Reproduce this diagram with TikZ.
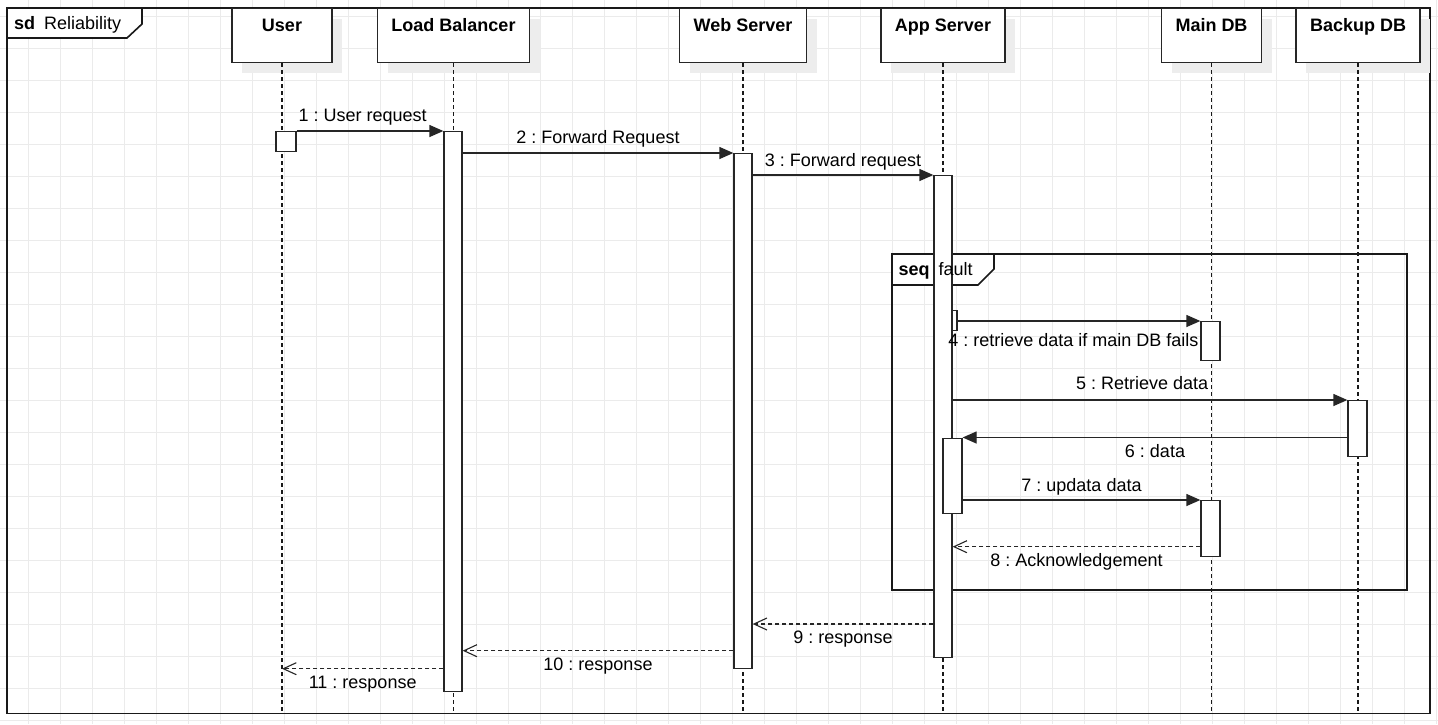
\documentclass[tikz,border=0pt]{standalone}
\usepackage{fontspec}
\setmainfont{Liberation Sans}
\usetikzlibrary{arrows.meta,shadows}
\frenchspacing

\tikzset{
  gridline/.style={draw=black!8, line width=0.8pt},
  frame/.style={draw=black!90, line width=1.6pt},
  head/.style={draw=black!85, line width=1.3pt, fill=white, anchor=north,
    font=\fontsize{18}{21.6}\selectfont\bfseries,
    minimum height=54pt, inner xsep=0pt, inner ysep=10.5pt,
    text height=12.4pt, text depth=20.1pt,
    drop shadow={shadow xshift=10pt, shadow yshift=-10pt, fill=black!7, opacity=1}},
  lifeline/.style={draw=black!90, line width=1.4pt, dash pattern=on 4pt off 3pt},
  act/.style={draw=black!85, line width=1.3pt, fill=white, anchor=north,
    minimum width=18pt, inner sep=0pt},
  call/.style={draw=black!85, line width=1.3pt, -{Triangle[length=14pt,width=12pt]}},
  reply/.style={draw=black!85, line width=1.1pt, dash pattern=on 4pt off 3pt,
    -{Straight Barb[length=13pt,width=12pt]}},
  msg/.style={inner sep=0pt, text height=12.4pt, text depth=3.8pt}
}

\begin{document}
\begin{tikzpicture}[x=1pt,y=-1pt,font=\fontsize{18}{21.6}\selectfont]
\useasboundingbox (0,0) rectangle (1438,724);
\fill[white] (0,0) rectangle (1438,724);

% grid
\foreach \k in {0,...,45} \draw[gridline] ({-3.7+32*\k},0) -- ({-3.7+32*\k},724);
\foreach \k in {0,...,22} \draw[gridline] (0,{16.3+32*\k}) -- (1438,{16.3+32*\k});

% sd frame
\draw[frame] (7,8) rectangle (1430,713.5);
\draw[frame, fill=white] (7,8) -- (142,8) -- (142,24) -- (127,38) -- (7,38) -- cycle;
\node[anchor=base west, inner sep=0pt] (sdlbl) at (14,29.2) {\textbf{sd}\hspace{9pt}Reliability};
\coordinate (bottom) at (0,713.5);

% lifeline heads
\node[head, minimum width=100pt] (user) at (282,8) {User};
\node[head, minimum width=152pt] (lb) at (453.5,8) {Load Balancer};
\node[head, minimum width=127pt] (web) at (743,8) {Web Server};
\node[head, minimum width=124pt] (app) at (943,8) {App Server};
\node[head, minimum width=100pt] (maindb) at (1211.5,8) {Main DB};
\node[head, minimum width=124pt] (backdb) at (1358,8) {Backup DB};

% lifelines
\draw[lifeline] (user.south) -- (user.south |- bottom);
\draw[lifeline] (lb.south) -- (lb.south |- bottom);
\draw[lifeline] (web.south) -- (web.south |- bottom);
\draw[lifeline] (app.south) -- (app.south |- bottom);
\draw[lifeline] (maindb.south) -- (maindb.south |- bottom);
\draw[lifeline] (backdb.south) -- (backdb.south |- bottom);

% seq fragment
\draw[frame] (892,254) rectangle (1407,590);
\draw[frame, fill=white] (892,254) -- (994,254) -- (994,269) -- (978,285) -- (892,285) -- cycle;

% activations
\node[act, minimum width=20pt, minimum height=20pt] (userA) at (286,131) {};
\node[act, minimum height=560pt] (lbA) at (453,131) {};
\node[act, minimum height=515pt] (webA) at (743,153) {};
\node[act, minimum height=482pt] (appA) at (943,175) {};
\node[act, minimum width=5pt, minimum height=20pt] (selfA) at (954.5,310) {};
\node[act, minimum width=19pt, minimum height=39pt] (mainA) at (1210.5,321) {};
\node[act, minimum width=19pt, minimum height=56pt] (backA) at (1357.5,400) {};
\node[act, minimum width=19pt, minimum height=75pt] (appB) at (952.5,437.5) {};
\node[act, minimum width=19pt, minimum height=56pt] (mainB) at (1210.5,500) {};

\node[anchor=base west, inner sep=0pt] (seqlbl) at (898.3,275.5) {\textbf{seq}\hspace{9pt}fault};

\coordinate (ack) at (0,546.7);
\coordinate (r9) at (0,624);
\coordinate (r10) at (0,650.7);
\coordinate (r11) at (0,668.7);

% messages
\draw[call] (userA.north east) -- node[msg, above=5pt, pos=0.45] (m1) {1 : User request} (lbA.north west);
\draw[call] (lbA.east |- webA.north) -- node[msg, above=5pt] (m2) {2 : Forward Request} (webA.north west);
\draw[call] (webA.east |- appA.north) -- node[msg, above=4.5pt] (m3) {3 : Forward request} (appA.north west);
\draw[call] (selfA.east |- mainA.north) -- node[msg, below=12.8pt, pos=0.477] (m4) {4 : retrieve data if main DB fails} (mainA.north west);
\draw[call] (appA.east |- backA.north) -- node[msg, above=5.7pt, pos=0.48] (m5) {5 : Retrieve data} (backA.north west);
\draw[call] (backA.west |- appB.north) -- node[msg, below=7pt] (m6) {6 : data} (appB.north east);
\draw[call] (appB.east |- mainB.north) -- node[msg, above=4.5pt] (m7) {7 : updata data} (mainB.north west);
\draw[reply] (mainB.west |- ack) -- node[msg, below=7pt] (m8) {8 : Acknowledgement} (appA.east |- ack);
\draw[reply] (appA.west |- r9) -- node[msg, below=6.5pt] (m9) {9 : response} (webA.east |- r9);
\draw[reply] (webA.west |- r10) -- node[msg, below=6.5pt] (m10) {10 : response} (lbA.east |- r10);
\draw[reply] (lbA.west |- r11) -- node[msg, below=6.8pt] (m11) {11 : response} (user.south |- r11);

\end{tikzpicture}
\end{document}
